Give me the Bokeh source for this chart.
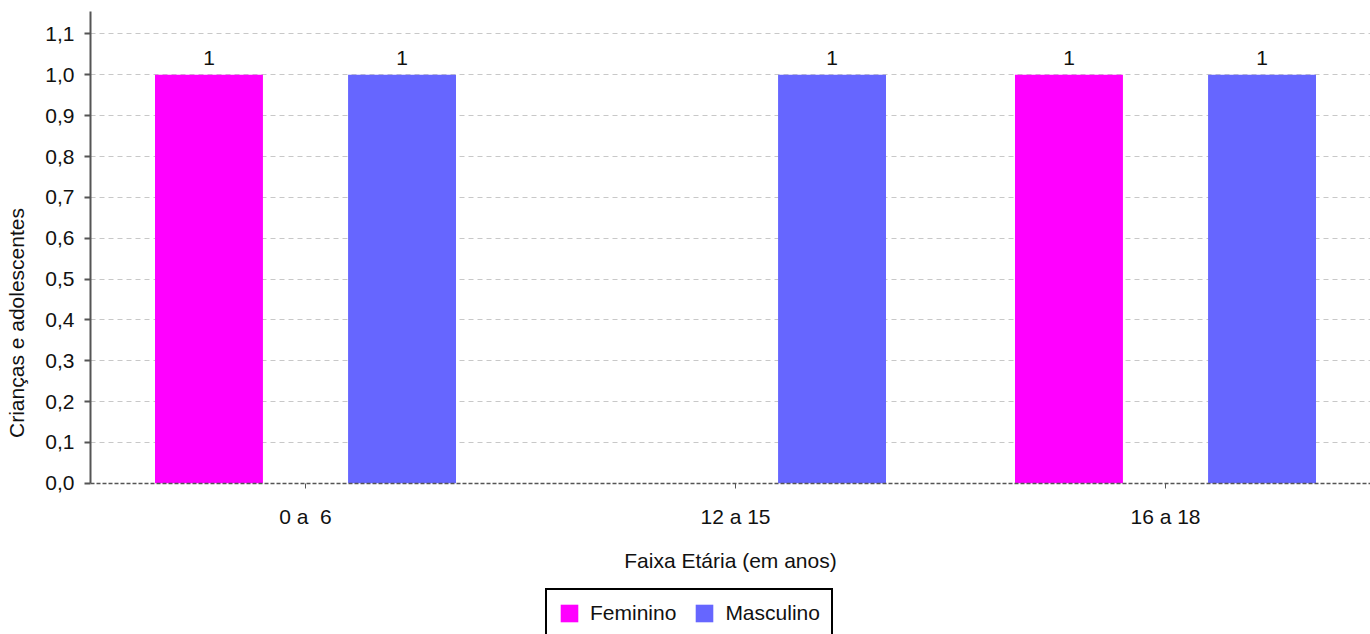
from bokeh.plotting import figure
from bokeh.models import (ColumnDataSource, Range1d, FixedTicker, CustomJSTickFormatter,
                          Legend, LegendItem)
from bokeh.core.properties import value
from bokeh.embed import file_html
from bokeh.resources import INLINE

categories = ["0 a  6", "12 a 15", "16 a 18"]
feminino = [1, 0, 1]
masculino = [1, 1, 1]
y_ticks = [0.0, 0.1, 0.2, 0.3, 0.4, 0.5, 0.6, 0.7, 0.8, 0.9, 1.0, 1.1]

FONT = "Liberation Sans"
FS = "21px"
FEM_COLOR = "#ff00ff"
MASC_COLOR = "#6666ff"
TXT = "#111111"

idx = list(range(len(categories)))
off = 0.2245
bw = 0.251

fem_src = ColumnDataSource(dict(x=[i - off for i in idx], top=feminino,
                                lab=[str(v) if v else "" for v in feminino]))
masc_src = ColumnDataSource(dict(x=[i + off for i in idx], top=masculino,
                                 lab=[str(v) if v else "" for v in masculino]))

W, H = 1370, 634
LEFT, TOP, ZERO = 90, 11, 483
PX_PER_UNIT = 408.0
frame_w = W - LEFT
frame_h = H - TOP
y_top = 1.155
y_bottom = -(H - ZERO) / PX_PER_UNIT
p = figure(frame_width=frame_w, frame_height=frame_h, output_backend="svg", toolbar_location=None,
           x_range=Range1d(-0.5, -0.5 + frame_w / 430.0), y_range=Range1d(y_bottom, y_top),
           min_border_left=LEFT, min_border_right=0, min_border_top=TOP,
           min_border_bottom=0)
p.outline_line_color = None
p.background_fill_color = "white"
p.border_fill_color = "white"

r_f = p.vbar(x="x", top="top", width=bw, source=fem_src, fill_color=FEM_COLOR, line_color=None)
r_m = p.vbar(x="x", top="top", width=bw, source=masc_src, fill_color=MASC_COLOR, line_color=None)

for src in (fem_src, masc_src):
    p.text(x="x", y="top", text="lab", source=src, text_align="center", text_baseline="bottom",
           y_offset=-10, text_font=value(FONT), text_font_size=FS, text_color=TXT)

# grid
p.xgrid.grid_line_color = None
p.ygrid.ticker = FixedTicker(ticks=y_ticks[1:])
p.ygrid.grid_line_color = "#c8c8c8"
p.ygrid.grid_line_dash = "5 4"
p.ygrid.grid_line_width = 1

# y axis
p.yaxis.ticker = FixedTicker(ticks=y_ticks)
p.yaxis.bounds = (0, y_top)
p.yaxis.formatter = CustomJSTickFormatter(code="return tick.toFixed(1).replace('.', ',');")
p.yaxis.axis_line_color = "#555555"
p.yaxis.axis_line_width = 2
p.yaxis.major_tick_line_color = "#555555"
p.yaxis.major_tick_line_width = 2
p.yaxis.major_tick_out = 6
p.yaxis.major_tick_in = 0
p.yaxis.minor_tick_line_color = None
p.yaxis.major_label_standoff = 10
p.yaxis.major_label_text_font = FONT
p.yaxis.major_label_text_font_size = FS
p.yaxis.major_label_text_color = TXT
p.yaxis.axis_label = "Crianças e adolescentes"
p.yaxis.axis_label_text_font = FONT
p.yaxis.axis_label_text_font_size = FS
p.yaxis.axis_label_text_font_style = "normal"
p.yaxis.axis_label_text_color = TXT
p.yaxis.axis_label_standoff = 14

# x axis (pinned at y = 0)
p.xaxis.fixed_location = 0
p.xaxis.ticker = FixedTicker(ticks=idx)
p.xaxis.major_label_overrides = {i: c.replace("  ", " \u00a0") for i, c in zip(idx, categories)}
p.xaxis.axis_line_color = "#555555"
p.xaxis.axis_line_dash = "4 2"
p.xaxis.axis_line_width = 1.5
p.xaxis.major_tick_line_color = "#555555"
p.xaxis.major_tick_out = 5
p.xaxis.major_tick_in = 0
p.xaxis.minor_tick_line_color = None
p.xaxis.major_label_standoff = 17
p.xaxis.major_label_text_font = FONT
p.xaxis.major_label_text_font_size = FS
p.xaxis.major_label_text_color = TXT
p.xaxis.axis_label = "Faixa Etária (em anos)"
p.xaxis.axis_label_text_font = FONT
p.xaxis.axis_label_text_font_size = FS
p.xaxis.axis_label_text_font_style = "normal"
p.xaxis.axis_label_text_color = TXT
p.xaxis.axis_label_standoff = 17

legend = Legend(items=[LegendItem(label="Feminino", renderers=[r_f]),
                       LegendItem(label="Masculino", renderers=[r_m])],
                orientation="horizontal", location=(455, -4),
                glyph_width=22, glyph_height=22, label_standoff=10, spacing=17,
                padding=11, margin=0, border_line_color="black", border_line_width=2,
                border_line_alpha=1.0,
                label_text_font=FONT, label_text_font_size=FS, label_text_color=TXT,
                background_fill_alpha=1.0)
p.add_layout(legend, "center")

open("out.html", "w").write(file_html(p, INLINE))
